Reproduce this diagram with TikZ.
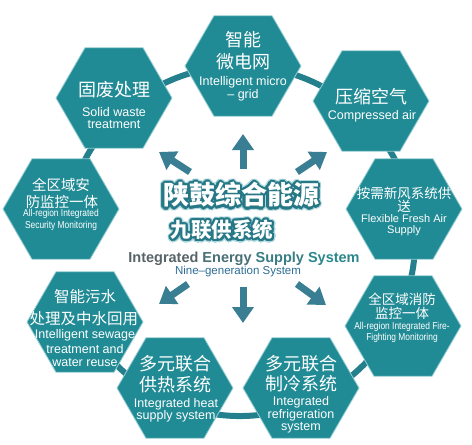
\documentclass[tikz,border=0pt]{standalone}
\usepackage{fontspec}
\usepackage{graphicx}
\setmainfont{Liberation Sans}
\newfontfamily\zh{Noto Sans CJK SC}
\usetikzlibrary{shapes.geometric,arrows.meta,calc}
\definecolor{hexc}{RGB}{33,139,149}
\definecolor{hexedge}{RGB}{150,205,212}
\definecolor{ringc}{RGB}{36,128,140}
\definecolor{arrc}{RGB}{58,126,148}
\definecolor{halo}{RGB}{175,216,222}
\definecolor{ttlc}{RGB}{38,120,134}
\definecolor{ga}{RGB}{88,100,104}
\definecolor{gb}{RGB}{72,112,118}
\definecolor{gc}{RGB}{56,126,132}
\definecolor{gd}{RGB}{44,136,140}
\definecolor{ninec}{RGB}{44,108,150}
\begin{document}
\begin{tikzpicture}[x=1pt,y=-1pt,
  hexagon/.style={regular polygon, regular polygon sides=6, minimum size=116pt,
    inner sep=0pt, fill=hexc, draw=hexedge, line width=0.8pt},
  zhl/.style={text=white, inner sep=0pt, font=\zh\fontsize{18}{18}\selectfont},
  zhm/.style={text=white, inner sep=0pt, font=\zh\fontsize{15.5}{15.5}\selectfont},
  zhs/.style={text=white, inner sep=0pt, font=\zh\fontsize{14.5}{14.5}\selectfont},
  zhx/.style={text=white, inner sep=0pt, font=\zh\fontsize{13.5}{13.5}\selectfont},
  enl/.style={text=white, inner sep=0pt, font=\fontsize{12.5}{12.5}\selectfont},
  ens/.style={text=white, inner sep=0pt, font=\fontsize{11}{11}\selectfont},
  ent/.style={text=white, inner sep=0pt, font=\fontsize{10}{10}\selectfont},
  arr/.style={draw=arrc, line width=7pt, -{Triangle[width=21pt,length=16pt]}},
  ringline/.style={draw=ringc, line width=6pt},
  bigt/.style={inner sep=0pt, font=\zh\bfseries\fontsize{26}{26}\selectfont},
  midt/.style={inner sep=0pt, font=\zh\bfseries\fontsize{20.5}{20.5}\selectfont}
]
\useasboundingbox (0,0) rectangle (472,445);
\fill[white] (0,0) rectangle (472,445);

% ring behind hexagons (open where the reference shows no ring)
\coordinate (rc) at (240,241);
\draw[ringline] (rc) ++(192:175pt) arc[start angle=192, end angle=544, radius=175pt];

% hexagons
\node[hexagon] (h1) at (114,98) {};
\node[hexagon] (h2) at (243,66) {};
\node[hexagon] (h3) at (371,101) {};
\node[hexagon] (h4) at (404,209) {};
\node[hexagon] (h5) at (61,209) {};
\node[hexagon] (h6) at (85,322) {};
\node[hexagon] (h7) at (175,388) {};
\node[hexagon] (h8) at (301,388) {};
\node[hexagon] (h9) at (403,326) {};

% hex 1
\node[zhl] (h1a) at (114,90) {固废处理};
\node[enl] (h1b) at (114,112) {Solid waste};
\node[enl] (h1c) at (114,125) {treatment};
% hex 2
\node[zhl] (h2a) at (243,40) {智能};
\node[zhl] (h2b) at (243,62) {微电网};
\node[enl] (h2c) at (243,82) {Intelligent micro};
\node[enl] (h2d) at (243,95) {– grid};
% hex 3
\node[zhl] (h3a) at (371,97) {压缩空气};
\node[enl] (h3b) at (372,116) {Compressed air};
% hex 4
\node[zhx] (h4a) at (404,193) {按需新风系统供};
\node[zhx] (h4b) at (404,206) {送};
\node[ens] (h4c) at (404,219) {Flexible Fresh Air};
\node[ens] (h4d) at (404,231) {Supply};
% hex 5
\node[zhs] (h5a) at (61,185) {全区域安};
\node[zhs] (h5b) at (62,202) {防监控一体};
\node[ent] (h5c) at (61,214) {\scalebox{0.84}[1]{All-region Integrated}};
\node[ent] (h5d) at (61,226) {\scalebox{0.84}[1]{Security Monitoring}};
% hex 6
\node[zhm] (h6a) at (85,297) {智能污水};
\node[zhm] (h6b) at (84,319) {处理及中水回用};
\node[enl] (h6c) at (85,335) {Intelligent sewage};
\node[enl] (h6d) at (85,349) {treatment and};
\node[enl] (h6e) at (85,363) {water reuse};
% hex 7
\node[zhl] (h7a) at (175,364) {多元联合};
\node[zhl] (h7b) at (175,385) {供热系统};
\node[enl] (h7c) at (176,404) {Integrated heat};
\node[enl] (h7d) at (176,416) {supply system};
% hex 8
\node[zhl] (h8a) at (301,364) {多元联合};
\node[zhl] (h8b) at (301,384) {制冷系统};
\node[enl] (h8c) at (301,402) {Integrated};
\node[enl] (h8d) at (301,415) {refrigeration};
\node[enl] (h8e) at (301,428) {system};
% hex 9
\node[zhx] (h9a) at (402,299) {全区域消防};
\node[zhx] (h9b) at (402,313) {监控一体};
\node[ent] (h9c) at (402,327) {\scalebox{0.84}[1]{All-region Integrated Fire-}};
\node[ent] (h9d) at (402,338) {\scalebox{0.84}[1]{Fighting Monitoring}};

% arrows
\coordinate (au0) at (243,169); \coordinate (au1) at (243,134);
\coordinate (aul0) at (190,172); \coordinate (aul1) at (159,152);
\coordinate (aur0) at (297,172); \coordinate (aur1) at (327,152);
\coordinate (adl0) at (188,284); \coordinate (adl1) at (159,304);
\coordinate (ad0) at (243,287); \coordinate (ad1) at (243,323);
\coordinate (adr0) at (297,284); \coordinate (adr1) at (326,305);
\draw[arr] (au0) -- (au1);
\draw[arr] (aul0) -- (aul1);
\draw[arr] (aur0) -- (aur1);
\draw[arr] (adl0) -- (adl1);
\draw[arr] (ad0) -- (ad1);
\draw[arr] (adr0) -- (adr1);

% central title with outline
\coordinate (ttl) at (241,195);
\coordinate (sub) at (222,230);
\foreach \a [count=\i] in {0,22.5,...,337.5} {
  \node[bigt, text=halo] (tha\i) at ($(ttl)+(\a:3.8)$) {陕鼓综合能源};
  \node[midt, text=halo] (shx\i) at ($(sub)+(\a:3.4)$) {九联供系统};
}
\foreach \a [count=\i] in {0,22.5,...,337.5} {
  \node[bigt, text=ttlc] (tta\i) at ($(ttl)+(\a:2.4)$) {陕鼓综合能源};
  \node[midt, text=ttlc] (sta\i) at ($(sub)+(\a:2.1)$) {九联供系统};
}
\node[bigt, text=white] (title) at (ttl) {陕鼓综合能源};
\node[midt, text=white] (subtitle) at (sub) {九联供系统};

\node[inner sep=0pt, font=\bfseries\fontsize{14.5}{14.5}\selectfont] (eng) at (244,259)
  {\textcolor{ga}{Integrated} \textcolor{gb}{Energy} \textcolor{gc}{Supply} \textcolor{gd}{System}};
\node[inner sep=0pt, text=ninec, font=\fontsize{11.5}{11.5}\selectfont] (nine) at (238,272)
  {Nine–generation System};
\end{tikzpicture}
\end{document}
